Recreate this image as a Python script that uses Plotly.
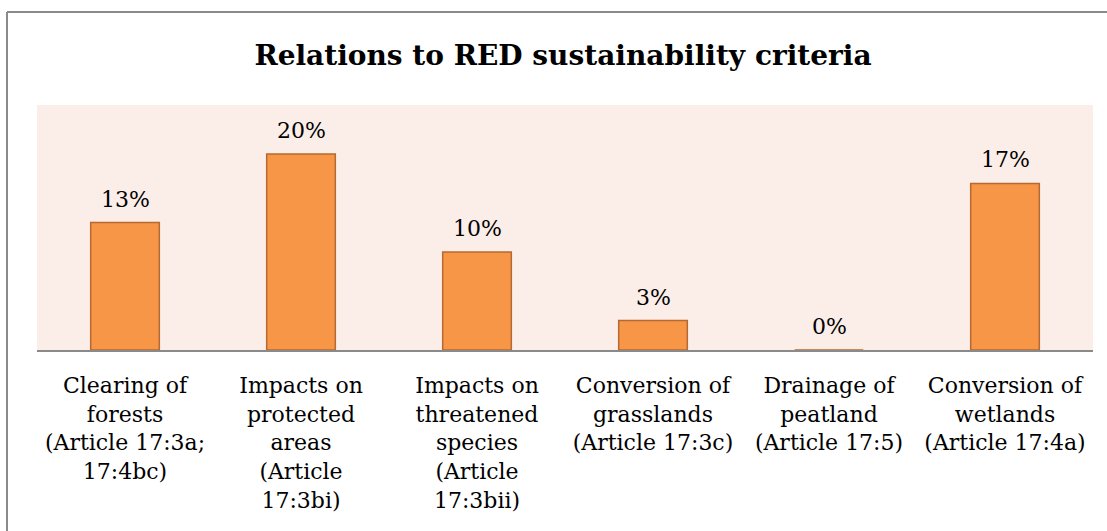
import plotly.graph_objects as go

categories = [
    "Clearing of<br>forests<br>(Article 17:3a;<br>17:4bc)",
    "Impacts on<br>protected<br>areas<br>(Article<br>17:3bi)",
    "Impacts on<br>threatened<br>species<br>(Article<br>17:3bii)",
    "Conversion of<br>grasslands<br>(Article 17:3c)",
    "Drainage of<br>peatland<br>(Article 17:5)",
    "Conversion of<br>wetlands<br>(Article 17:4a)",
]
shares = [13, 20, 10, 3, 0, 17]
share_labels = ["13%", "20%", "10%", "3%", "0%", "17%"]

W, H = 1107, 531
ML, MR, MT, MB = 37, 14, 105, 181
pw, ph = W - ML - MR, H - MT - MB

def px_x(x):
    return (x - ML) / pw

def px_y(y):
    return (H - MB - y) / ph

serif = "'DejaVu Serif', 'Liberation Serif', serif"
xs = list(range(len(categories)))

fig = go.Figure(
    go.Bar(
        x=xs,
        y=shares,
        width=0.39,
        marker=dict(color="#F79646", line=dict(color="#B66A32", width=1.5)),
        cliponaxis=False,
    )
)

# value labels above each bar
for xv, yv, lab in zip(xs, shares, share_labels):
    fig.add_annotation(x=xv, y=yv, text=lab, showarrow=False,
                       yanchor="bottom", yshift=9,
                       font=dict(family=serif, size=22, color="#000000"))

# outer chart frame (top and left edges)
fig.add_shape(type="line", xref="paper", yref="paper",
              x0=px_x(7), x1=px_x(W + 5), y0=px_y(12), y1=px_y(12),
              line=dict(color="#8A8A8A", width=2))
fig.add_shape(type="line", xref="paper", yref="paper",
              x0=px_x(7), x1=px_x(7), y0=px_y(12), y1=px_y(H + 5),
              line=dict(color="#8A8A8A", width=2))

fig.update_layout(
    width=W,
    height=H,
    margin=dict(l=ML, r=MR, t=MT, b=MB),
    paper_bgcolor="#FFFFFF",
    plot_bgcolor="#FBEDE8",
    showlegend=False,
    title=dict(
        text="<b>Relations to RED sustainability criteria</b>",
        x=563 / W,
        xanchor="center",
        y=1 - 55 / H,
        yanchor="middle",
        font=dict(family=serif, size=28, color="#000000"),
    ),
    xaxis=dict(
        tickmode="array",
        tickvals=xs,
        ticktext=categories,
        range=[-0.5, len(categories) - 0.5],
        showline=True,
        linecolor="#8A8A8A",
        linewidth=1.5,
        showgrid=False,
        zeroline=False,
        ticks="",
        ticklabelstandoff=15,
        tickfont=dict(family=serif, size=22, color="#000000"),
    ),
    yaxis=dict(
        range=[0, 25],
        visible=False,
        showgrid=False,
        zeroline=False,
    ),
)

fig.write_html("out.html")
